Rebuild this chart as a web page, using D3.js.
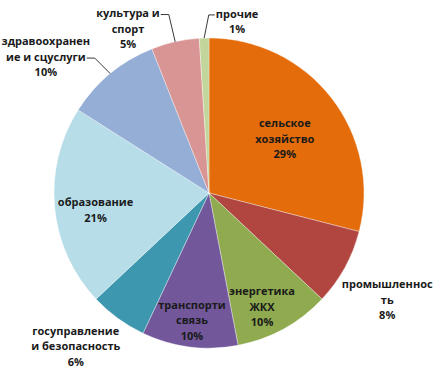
<!DOCTYPE html>
<html><head><meta charset="utf-8">
<script src="https://cdn.jsdelivr.net/npm/d3@7"></script>
<style>
html,body{margin:0;padding:0;background:#fff;}
text{font-family:"Open Sans","Noto Sans",sans-serif;font-weight:bold;font-size:11px;fill:#1a1a1a;}
</style></head>
<body>
<svg id="chart" width="436" height="371"></svg>
<script>
// data
const categories = ["сельское хозяйство","промышленность","энергетика ЖКХ","транспорт и связь","госуправление и безопасность","образование","здравоохранение и соцуслуги","культура и спорт","прочие"];
const values = [29, 8, 10, 10, 6, 21, 10, 5, 1];
const labelLines = [
  ["сельское","хозяйство","29%"],
  ["промышленнос","ть","8%"],
  ["энергетика","ЖКХ","10%"],
  ["транспорти","связь","10%"],
  ["госуправление","и безопасность","6%"],
  ["образование","21%"],
  ["здравоохранен","ие и сцуслуги","10%"],
  ["культура и","спорт","5%"],
  ["прочие","1%"]
];
const colors = ["#E46C0A","#B0463F","#8FAA4F","#72579A","#3C97AF","#B7DDE8","#95AED6","#D89593","#C2D69B"];

// layout
const cx = 209, cy = 193, R = 155;
// radial factor and angle tweak (deg) for label placement
const labelPos = [[0.60,2.4],[1.34,2.1],[0.81,3.8],[0.83,0.4],[1.31,5],[0.74,-3.1],[1.37,-10.6],[1.18,-13.7],[1.12,11.1]];
// leader lines: [line index, side]
const leaders = {6:[1,"right"],7:[0,"right"],8:[0,"left"]};
const lineH = 15.5;

const svg = d3.select("#chart");
const g = svg.append("g").attr("transform",`translate(${cx},${cy})`);
const pie = d3.pie().sort(null).value(d=>d).startAngle(0).endAngle(2*Math.PI);
const arcs = pie(values);
const arc = d3.arc().innerRadius(0).outerRadius(R);

g.selectAll("path.slice").data(arcs).enter().append("path")
  .attr("class","slice").attr("d",arc)
  .attr("fill",(d,i)=>colors[i])
  .attr("stroke","#ffffff").attr("stroke-opacity",0.5).attr("stroke-width",0.7);

const polar = (a,r)=>[r*Math.sin(a), -r*Math.cos(a)];

arcs.forEach((d,i)=>{
  const mid = (d.startAngle+d.endAngle)/2;
  const [k,da] = labelPos[i];
  const [lx,ly] = polar(mid + da*Math.PI/180, R*k);
  const lines = labelLines[i];
  const y0 = ly - (lines.length-1)*lineH/2;
  const t = g.append("text").attr("text-anchor","middle");
  lines.forEach((s,j)=>{
    t.append("tspan").attr("x",lx).attr("y",y0+j*lineH).attr("dy","0.35em").text(s);
  });
  if (leaders[i]) {
    const [li,side] = leaders[i];
    const tsp = t.selectAll("tspan").nodes()[li];
    const w = tsp.getComputedTextLength();
    const yy = y0 + li*lineH + 1;
    const [ex,ey] = polar(mid, R);
    let x1, x2;
    if (side==="right"){ x1 = lx + w/2 + 1; x2 = x1 + 8; }
    else { x1 = lx - w/2 - 1; x2 = x1 - 6; }
    g.append("path").attr("d",`M${x1},${yy}L${x2},${yy}L${ex},${ey}`)
      .attr("fill","none").attr("stroke","#222").attr("stroke-width",0.9);
  }
});
</script>
</body></html>
